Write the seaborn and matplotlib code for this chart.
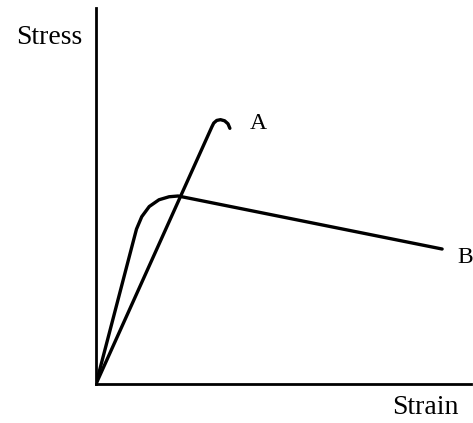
import matplotlib
matplotlib.use("Agg")
import matplotlib.pyplot as plt
import seaborn as sns

# curve A: straight elastic line ending in a small hook (brittle)
strain_a = [0, 3.09, 3.14, 3.22, 3.32, 3.43, 3.52, 3.57]
stress_a = [0, 6.84, 6.94, 7.01, 7.03, 7.00, 6.92, 6.80]

# curve B: elastic rise, rounded yield, long descending tail (ductile)
strain_b = [0, 0.99, 1.08, 1.22, 1.42, 1.68, 1.95, 2.19, 9.23]
stress_b = [0, 3.78, 4.12, 4.45, 4.72, 4.90, 4.98, 5.00, 3.59]

curve_labels = ["A", "B"]
label_pos = [(4.33, 6.77), (9.84, 3.22)]

sns.set_style("white")
plt.rcParams["font.family"] = ["Liberation Serif", "DejaVu Serif"]
plt.rcParams["text.color"] = "black"

fig = plt.figure(figsize=(4.73, 4.23), dpi=100)
ax = fig.add_axes([96/473, 39/423, 375/473, 376/423])

sns.lineplot(x=strain_a, y=stress_a, sort=False, estimator=None, color="black", lw=2.4, ax=ax)
sns.lineplot(x=strain_b, y=stress_b, sort=False, estimator=None, color="black", lw=2.4, ax=ax)

for lab, (x, y) in zip(curve_labels, label_pos):
    ax.text(x, y, lab, fontsize=17, ha="center", va="baseline", color="black")

ax.text(-1.25, 9.04, "Stress", fontsize=20, ha="center", va="baseline", color="black", clip_on=False)
ax.text(8.77, -0.80, "Strain", fontsize=20, ha="center", va="baseline", color="black", clip_on=False)

ax.set_xlim(0, 10)
ax.set_ylim(0, 10)
ax.set_xticks([])
ax.set_yticks([])
ax.set_xlabel("")
ax.set_ylabel("")
for s in ["top", "right"]:
    ax.spines[s].set_visible(False)
for s in ["left", "bottom"]:
    ax.spines[s].set_color("black")
    ax.spines[s].set_linewidth(2.0)

fig.savefig("out.png", dpi=100)
